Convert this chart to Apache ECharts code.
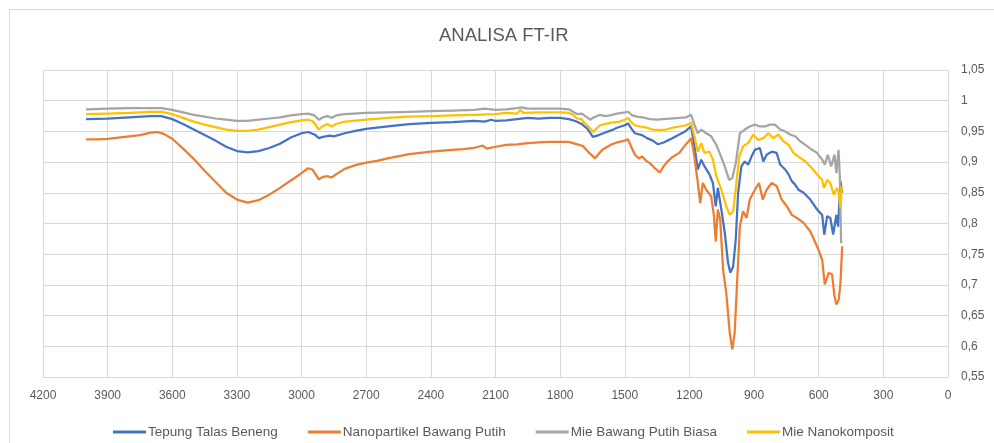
<!DOCTYPE html>
<html>
<head>
<meta charset="utf-8">
<script src="https://cdn.jsdelivr.net/npm/echarts@6/dist/echarts.min.js"></script>
<style>html,body{margin:0;padding:0;background:#fff;}#c{width:994px;height:443px;}</style>
</head>
<body>
<div id="c"></div>
<script>
const seriesNames = ['Tepung Talas Beneng','Nanopartikel Bawang Putih','Mie Bawang Putih Biasa','Mie Nanokomposit'];
const xTicks = [0,300,600,900,1200,1500,1800,2100,2400,2700,3000,3300,3600,3900,4200];
const yTicks = [0.55,0.6,0.65,0.7,0.75,0.8,0.85,0.9,0.95,1,1.05];

const tepungWn = [4000,3900,3800,3700,3650,3600,3550,3500,3450,3400,3350,3300,3250,3200,3150,3100,3050,3000,2970,2940,2920,2900,2870,2850,2800,2750,2700,2600,2500,2400,2300,2200,2150,2120,2100,2050,2000,1950,1900,1850,1800,1760,1730,1700,1675,1648,1620,1600,1560,1536,1500,1485,1470,1453,1420,1397,1370,1346,1320,1290,
  1247,1220,1192,1177,1161,1145,1130,1107,1091,1078,1068,1052,1036,1021,1010,997,985,974,959,943,927,912,896,873,857,842,818,795,779,756,740,725,709,694,670,639,608,584,574,561,546,533,518,510,499,491];
const tepungT = [0.970,0.971,0.973,0.975,0.975,0.970,0.962,0.953,0.944,0.935,0.925,0.918,0.916,0.918,0.923,0.930,0.940,0.947,0.949,0.945,0.939,0.941,0.943,0.942,0.947,0.951,0.954,0.958,0.962,0.964,0.965,0.967,0.966,0.969,0.967,0.968,0.970,0.972,0.971,0.972,0.972,0.970,0.967,0.962,0.955,0.941,0.944,0.947,0.952,0.956,0.960,0.963,0.955,0.947,0.944,0.939,0.935,0.929,0.932,0.937,
  0.945,0.950,0.958,0.926,0.888,0.904,0.893,0.880,0.866,0.828,0.858,0.823,0.785,0.736,0.720,0.730,0.774,0.850,0.893,0.901,0.896,0.909,0.920,0.923,0.901,0.912,0.917,0.915,0.896,0.888,0.880,0.869,0.863,0.855,0.850,0.839,0.823,0.814,0.782,0.812,0.809,0.782,0.814,0.795,0.869,0.850];

const nanoWn = [4000,3950,3900,3850,3800,3750,3700,3670,3640,3600,3550,3500,3450,3400,3350,3300,3250,3200,3150,3100,3050,3000,2970,2950,2935,2920,2900,2880,2860,2840,2800,2750,2700,2650,2600,2500,2400,2300,2250,2200,2160,2140,2100,2050,2000,1950,1900,1850,1800,1760,1720,1694,1665,1638,1615,1601,1560,1536,1500,1485,1470,1453,1435,1420,1400,1383,1360,1337,1320,1304,1280,
  1247,1223,1192,1177,1161,1150,1138,1122,1099,1086,1078,1068,1057,1044,1029,1013,1001,990,979,966,951,935,920,896,877,860,842,818,795,772,748,725,701,670,639,608,584,572,553,538,527,518,507,499,491];
const nanoT = [0.937,0.937,0.938,0.940,0.942,0.944,0.948,0.949,0.946,0.938,0.922,0.905,0.886,0.868,0.850,0.839,0.834,0.838,0.847,0.858,0.870,0.882,0.890,0.888,0.880,0.872,0.876,0.877,0.875,0.880,0.889,0.895,0.899,0.902,0.906,0.913,0.917,0.920,0.921,0.923,0.927,0.922,0.925,0.928,0.929,0.931,0.932,0.933,0.933,0.933,0.929,0.926,0.915,0.906,0.916,0.921,0.929,0.932,0.935,0.937,0.925,0.912,0.906,0.909,0.902,0.898,0.890,0.883,0.893,0.900,0.908,
  0.915,0.926,0.939,0.909,0.866,0.833,0.866,0.855,0.844,0.812,0.771,0.823,0.806,0.725,0.687,0.622,0.595,0.622,0.703,0.795,0.820,0.809,0.839,0.855,0.866,0.839,0.855,0.866,0.861,0.839,0.828,0.814,0.809,0.801,0.787,0.763,0.741,0.701,0.720,0.717,0.682,0.668,0.676,0.703,0.763];

const biasaWn = [4000,3900,3800,3700,3650,3600,3550,3500,3450,3400,3350,3300,3250,3200,3150,3100,3050,3000,2970,2940,2920,2900,2880,2860,2840,2800,2700,2600,2500,2400,2300,2200,2150,2100,2050,2000,1980,1950,1900,1850,1800,1760,1740,1720,1699,1680,1660,1648,1615,1590,1569,1536,1500,1485,1465,1443,1420,1383,1350,1323,1290,
  1247,1215,1192,1177,1161,1145,1122,1099,1075,1060,1036,1016,1001,985,966,943,920,896,873,849,826,803,779,756,733,709,686,662,631,608,584,572,558,542,527,518,508,502,496];
const biasaT = [0.986,0.987,0.988,0.988,0.988,0.985,0.981,0.977,0.974,0.971,0.969,0.967,0.967,0.969,0.971,0.973,0.976,0.978,0.979,0.976,0.969,0.973,0.975,0.972,0.976,0.978,0.980,0.981,0.982,0.983,0.984,0.985,0.987,0.985,0.986,0.988,0.989,0.987,0.987,0.987,0.987,0.986,0.982,0.978,0.979,0.974,0.969,0.972,0.977,0.975,0.976,0.979,0.981,0.982,0.976,0.974,0.973,0.970,0.969,0.970,0.971,
  0.972,0.973,0.977,0.961,0.947,0.953,0.947,0.942,0.928,0.915,0.893,0.871,0.874,0.898,0.947,0.953,0.958,0.961,0.958,0.958,0.961,0.961,0.953,0.950,0.945,0.942,0.934,0.928,0.920,0.915,0.904,0.896,0.912,0.893,0.912,0.882,0.920,0.877,0.768];

const nanokompWn = [4000,3900,3800,3700,3650,3600,3550,3500,3450,3400,3350,3300,3250,3200,3150,3100,3050,3000,2970,2950,2935,2920,2905,2880,2860,2840,2800,2700,2600,2500,2400,2300,2200,2100,2050,2000,1985,1970,1900,1850,1800,1760,1740,1722,1700,1694,1675,1661,1648,1630,1615,1569,1522,1500,1485,1470,1453,1430,1397,1370,1337,1310,1277,
  1247,1215,1192,1177,1161,1145,1130,1107,1091,1075,1052,1029,1013,997,982,969,951,927,904,881,857,834,811,787,764,740,717,694,662,631,608,584,576,561,546,530,515,507,499,493];
const nanokompT = [0.978,0.979,0.980,0.982,0.982,0.978,0.972,0.966,0.961,0.957,0.953,0.951,0.951,0.953,0.957,0.961,0.965,0.968,0.969,0.967,0.961,0.953,0.958,0.962,0.958,0.962,0.966,0.969,0.972,0.974,0.975,0.976,0.977,0.978,0.980,0.979,0.985,0.980,0.981,0.981,0.981,0.980,0.977,0.971,0.970,0.966,0.960,0.955,0.949,0.955,0.960,0.964,0.966,0.969,0.972,0.965,0.960,0.958,0.956,0.953,0.952,0.953,0.956,
  0.958,0.960,0.964,0.942,0.917,0.931,0.915,0.917,0.904,0.877,0.855,0.828,0.814,0.820,0.866,0.909,0.926,0.931,0.945,0.936,0.939,0.947,0.939,0.945,0.934,0.928,0.915,0.909,0.901,0.890,0.880,0.871,0.858,0.871,0.866,0.847,0.858,0.850,0.825,0.861];

const colors = ['#4472C4','#ED7D31','#A5A5A5','#FFC000'];
const wnSets = [tepungWn, nanoWn, biasaWn, nanokompWn];
const tSets = [tepungT, nanoT, biasaT, nanokompT];

function zip(a, b) { const n = Math.min(a.length, b.length); const r = []; for (let i = 0; i < n; i++) r.push([a[i], b[i]]); return r; }
const FONT = 'Liberation Sans, Arial, sans-serif';

const chart = echarts.init(document.getElementById('c'), null, {renderer: 'canvas'});
chart.setOption({
  animation: false,
  backgroundColor: '#ffffff',
  color: colors,
  title: {
    text: 'ANALISA FT-IR',
    left: 439, top: 26, padding: 0,
    textStyle: {color: '#595959', fontSize: 18.5, fontWeight: 'normal', fontFamily: FONT}
  },
  graphic: [{
    type: 'rect', silent: true, z: -1,
    shape: {x: 9.5, y: 9.5, width: 1000, height: 500},
    style: {fill: 'none', stroke: '#d9d9d9', lineWidth: 1}
  }],
  legend: {
    data: seriesNames,
    left: 108, top: 420,
    icon: 'rect', itemWidth: 33, itemHeight: 3, itemGap: 30,
    textStyle: {color: '#595959', fontSize: 13.5, fontFamily: FONT, padding: [0,0,0,-3]}
  },
  grid: {left: 43, right: 46, top: 70, bottom: 66, containLabel: false},
  xAxis: {
    type: 'value', inverse: true, min: 0, max: 4200, interval: 300,
    axisLine: {show: true, lineStyle: {color: '#d9d9d9'}},
    axisTick: {show: false},
    splitLine: {show: true, lineStyle: {color: '#d9d9d9', width: 1}},
    axisLabel: {color: '#595959', fontSize: 12, fontFamily: FONT, margin: 13,
      customValues: xTicks, formatter: v => String(v)}
  },
  yAxis: {
    type: 'value', position: 'right', min: 0.55, max: 1.05, interval: 0.05,
    axisLine: {show: false}, axisTick: {show: false},
    splitLine: {show: true, lineStyle: {color: '#d9d9d9', width: 1}},
    axisLabel: {color: '#595959', fontSize: 12, fontFamily: FONT, margin: 13,
      customValues: yTicks,
      formatter: v => String(Math.round(v * 100) / 100).replace('.', ',')}
  },
  series: seriesNames.map((n, i) => ({
    name: n, type: 'line', showSymbol: false, symbol: 'none',
    data: zip(wnSets[i], tSets[i]),
    lineStyle: {width: 2.25, color: colors[i]},
    itemStyle: {color: colors[i]},
    emphasis: {disabled: true}
  }))
});
</script>
</body>
</html>
